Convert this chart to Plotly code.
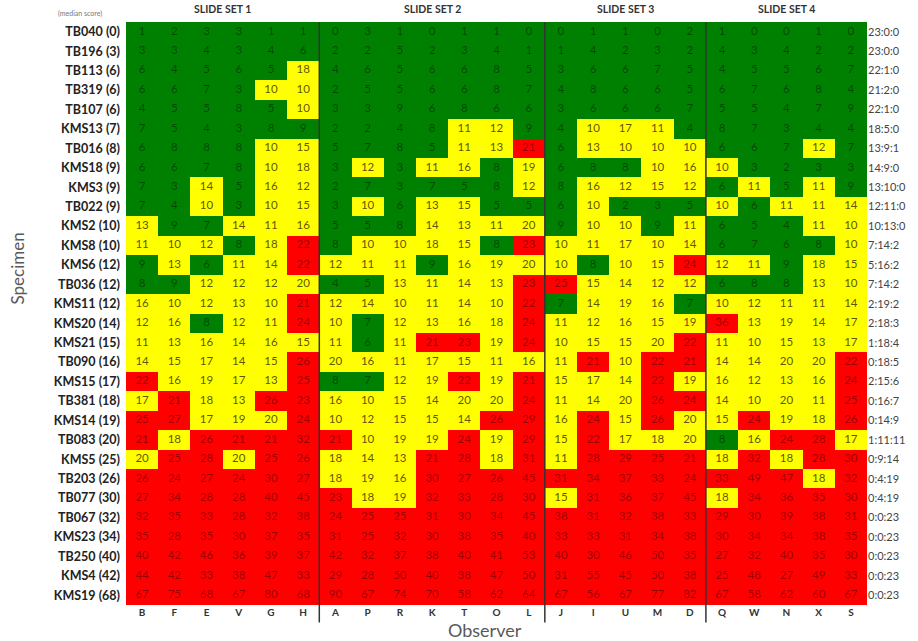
import plotly.graph_objects as go

observers = ["B", "F", "E", "V", "G", "H",
             "A", "P", "R", "K", "T", "O", "L",
             "J", "I", "U", "M", "D",
             "Q", "W", "N", "X", "S"]
slide_sets = ["SLIDE SET 1", "SLIDE SET 2", "SLIDE SET 3", "SLIDE SET 4"]
slide_set_sizes = [6, 7, 5, 5]

specimens = ["TB040", "TB196", "TB113", "TB319", "TB107", "KMS13", "TB016", "KMS18", "KMS3", "TB022",
             "KMS2", "KMS8", "KMS6", "TB036", "KMS11", "KMS20", "KMS21", "TB090", "KMS15", "TB381",
             "KMS14", "TB083", "KMS5", "TB203", "TB077", "TB067", "KMS23", "TB250", "KMS4", "KMS19"]
median_scores = [0, 3, 6, 6, 6, 7, 8, 9, 9, 9,
                 10, 10, 12, 12, 12, 14, 15, 16, 17, 18,
                 19, 20, 25, 26, 30, 32, 34, 40, 42, 68]
ratios = ["23:0:0", "23:0:0", "22:1:0", "21:2:0", "22:1:0", "18:5:0", "13:9:1", "14:9:0", "13:10:0", "12:11:0",
          "10:13:0", "7:14:2", "5:16:2", "7:14:2", "2:19:2", "2:18:3", "1:18:4", "0:18:5", "2:15:6", "0:16:7",
          "0:14:9", "1:11:11", "0:9:14", "0:4:19", "0:4:19", "0:0:23", "0:0:23", "0:0:23", "0:0:23", "0:0:23"]

scores = [
    [1, 2, 3, 3, 1, 1, 0, 3, 1, 0, 1, 1, 0, 0, 1, 1, 0, 2, 1, 0, 0, 1, 0],
    [3, 3, 4, 3, 4, 6, 2, 2, 5, 2, 3, 4, 1, 1, 4, 2, 3, 2, 4, 3, 4, 2, 2],
    [6, 4, 5, 6, 5, 18, 4, 6, 5, 6, 6, 8, 5, 3, 6, 6, 7, 5, 4, 5, 5, 6, 7],
    [6, 6, 7, 3, 10, 10, 2, 5, 5, 6, 6, 8, 7, 4, 8, 6, 6, 5, 6, 7, 6, 8, 4],
    [4, 5, 5, 8, 5, 10, 3, 3, 9, 6, 8, 6, 6, 3, 6, 6, 6, 7, 5, 5, 4, 7, 9],
    [7, 5, 4, 3, 8, 9, 2, 2, 4, 8, 11, 12, 9, 4, 10, 17, 11, 4, 8, 7, 3, 4, 4],
    [6, 8, 8, 8, 10, 15, 5, 7, 8, 5, 11, 13, 21, 6, 13, 10, 10, 10, 6, 6, 7, 12, 7],
    [6, 6, 7, 8, 10, 18, 3, 12, 3, 11, 16, 8, 19, 6, 8, 8, 10, 16, 10, 3, 2, 3, 3],
    [7, 3, 14, 5, 16, 12, 2, 7, 3, 7, 5, 8, 12, 8, 16, 12, 15, 12, 6, 11, 5, 11, 9],
    [7, 4, 10, 3, 10, 15, 3, 10, 6, 13, 15, 5, 5, 6, 10, 2, 3, 5, 10, 6, 11, 11, 14],
    [13, 9, 7, 14, 11, 16, 5, 5, 8, 14, 13, 11, 20, 9, 10, 10, 9, 11, 6, 5, 4, 11, 10],
    [11, 10, 12, 8, 18, 22, 8, 10, 10, 18, 15, 8, 23, 10, 11, 17, 10, 14, 6, 7, 6, 8, 10],
    [9, 13, 6, 11, 14, 22, 12, 11, 11, 9, 16, 19, 20, 10, 8, 10, 15, 24, 12, 11, 9, 18, 15],
    [8, 9, 12, 12, 12, 20, 4, 5, 13, 11, 14, 13, 23, 25, 15, 14, 12, 12, 6, 8, 8, 13, 10],
    [16, 10, 12, 13, 10, 21, 12, 14, 10, 11, 14, 10, 22, 7, 14, 19, 16, 7, 10, 12, 11, 11, 14],
    [12, 16, 8, 12, 11, 24, 10, 7, 12, 13, 16, 18, 24, 11, 12, 16, 15, 19, 36, 13, 19, 14, 17],
    [11, 13, 16, 14, 16, 15, 11, 6, 11, 21, 23, 19, 24, 10, 15, 15, 20, 22, 11, 10, 15, 13, 17],
    [14, 15, 17, 14, 15, 26, 20, 16, 11, 17, 15, 11, 16, 11, 21, 10, 22, 21, 14, 14, 20, 20, 22],
    [22, 16, 19, 17, 13, 25, 8, 7, 12, 19, 22, 19, 21, 15, 17, 14, 22, 19, 16, 12, 13, 16, 24],
    [17, 21, 18, 13, 26, 23, 16, 10, 15, 14, 20, 20, 24, 11, 14, 20, 26, 24, 14, 10, 20, 11, 25],
    [25, 27, 17, 19, 20, 24, 10, 12, 15, 15, 14, 26, 29, 16, 24, 15, 26, 20, 15, 24, 19, 18, 26],
    [21, 18, 26, 21, 21, 32, 21, 10, 19, 19, 24, 19, 29, 15, 22, 17, 18, 20, 8, 16, 24, 28, 17],
    [20, 25, 28, 20, 25, 26, 18, 14, 13, 21, 28, 18, 31, 11, 28, 29, 25, 21, 18, 32, 18, 28, 30],
    [26, 24, 27, 24, 30, 27, 18, 19, 16, 30, 27, 26, 45, 31, 34, 37, 33, 24, 33, 49, 47, 18, 32],
    [27, 34, 28, 28, 40, 45, 23, 18, 19, 32, 33, 28, 30, 15, 31, 36, 37, 45, 18, 34, 36, 35, 30],
    [32, 35, 33, 28, 32, 38, 24, 25, 25, 31, 30, 34, 45, 38, 31, 32, 38, 33, 29, 30, 39, 38, 31],
    [35, 28, 35, 30, 37, 35, 31, 25, 32, 30, 38, 35, 40, 33, 33, 31, 34, 38, 30, 34, 34, 38, 35],
    [40, 42, 46, 36, 39, 37, 42, 32, 37, 38, 40, 41, 53, 40, 30, 46, 50, 35, 27, 32, 40, 35, 30],
    [44, 42, 33, 38, 47, 33, 29, 28, 50, 40, 38, 47, 50, 31, 55, 45, 50, 38, 25, 48, 27, 49, 33],
    [67, 75, 68, 67, 80, 68, 90, 67, 74, 70, 58, 62, 64, 67, 56, 67, 77, 82, 67, 58, 62, 60, 67],
]

FONT = "Lato"
n_rows, n_cols = len(specimens), len(observers)


def category(v):
    if v < 10:
        return 0
    if v <= 20:
        return 1
    return 2


cat = [[category(v) for v in row] for row in scores]
text_colors = ["rgba(0,0,0,0.45)", "rgba(50,40,0,0.8)", "rgba(0,0,0,0.42)"]

fig = go.Figure()
fig.add_trace(go.Heatmap(
    z=cat, x=list(range(n_cols)), y=list(range(n_rows)),
    zmin=0, zmax=2,
    colorscale=[[0, "#008000"], [0.333, "#008000"], [0.333, "#ffff00"],
                [0.667, "#ffff00"], [0.667, "#ff0000"], [1, "#ff0000"]],
    showscale=False, hoverinfo="skip", xgap=0, ygap=0,
))

tx, ty, tt, tc = [], [], [], []
for r in range(n_rows):
    for c in range(n_cols):
        tx.append(c)
        ty.append(r)
        tt.append(str(scores[r][c]))
        tc.append(text_colors[cat[r][c]])
fig.add_trace(go.Scatter(
    x=tx, y=ty, text=tt, mode="text",
    textfont=dict(family=FONT, size=11.5, color=tc),
    hoverinfo="skip", showlegend=False,
))
# invisible trace to anchor the right-hand axis
fig.add_trace(go.Scatter(
    x=[0] * n_rows, y=list(range(n_rows)), yaxis="y2", mode="markers",
    marker=dict(opacity=0), hoverinfo="skip", showlegend=False,
))

row_labels = [f"{s} ({m})" for s, m in zip(specimens, median_scores)]

fig.update_layout(
    width=918, height=641,
    margin=dict(l=126, r=48, t=22, b=36),
    paper_bgcolor="white", plot_bgcolor="white",
    showlegend=False,
    xaxis=dict(range=[-0.5, n_cols - 0.5], tickvals=list(range(n_cols)), ticktext=observers,
               showgrid=False, zeroline=False, ticks="", showline=False,
               tickfont=dict(family=FONT, size=10, color="#333", weight="bold")),
    yaxis=dict(range=[n_rows - 0.5, -0.5], tickvals=list(range(n_rows)), ticktext=row_labels,
               showgrid=False, zeroline=False, ticks="", showline=False, ticklabelstandoff=5,
               tickfont=dict(family=FONT, size=12.5, color="#222", weight="bold")),
    yaxis2=dict(range=[n_rows - 0.5, -0.5], tickvals=list(range(n_rows)), ticktext=ratios,
                overlaying="y", side="right", showgrid=False, zeroline=False, ticks="",
                showline=False, tickfont=dict(family=FONT, size=11, color="#444")),
)

# slide-set separators and headers
start = 0
shapes, annotations = [], []
for i, (name, size) in enumerate(zip(slide_sets, slide_set_sizes)):
    center = start + (size - 1) / 2
    annotations.append(dict(x=center, y=1.0223, xref="x", yref="paper", yanchor="middle",
                            xanchor="center", text=name, showarrow=False,
                            font=dict(family=FONT, size=10.5, color="#333", weight="bold")))
    if i > 0:
        shapes.append(dict(type="line", xref="x", yref="paper", x0=start - 0.5, x1=start - 0.5,
                           y0=-0.03, y1=1, line=dict(color="#333", width=1.5)))
    start += size

annotations += [
    dict(x=-0.062, y=1.014, xref="paper", yref="paper", xanchor="center", yanchor="middle",
         text="(median score)", showarrow=False, font=dict(family=FONT, size=7, color="#777")),
    dict(x=-0.1465, y=0.578, xref="paper", yref="paper", xanchor="center", yanchor="middle",
         text="Specimen", textangle=-90,
         showarrow=False, font=dict(family=FONT, size=17, color="#595959")),
    dict(x=0.484, y=-0.0429, xref="paper", yref="paper", xanchor="center", yanchor="middle",
         text="Observer", showarrow=False,
         font=dict(family=FONT, size=18, color="#595959")),
]
fig.update_layout(shapes=shapes, annotations=annotations)

fig.write_html("out.html", config={"displayModeBar": False},
               post_script="document.body.style.margin='0px';")
